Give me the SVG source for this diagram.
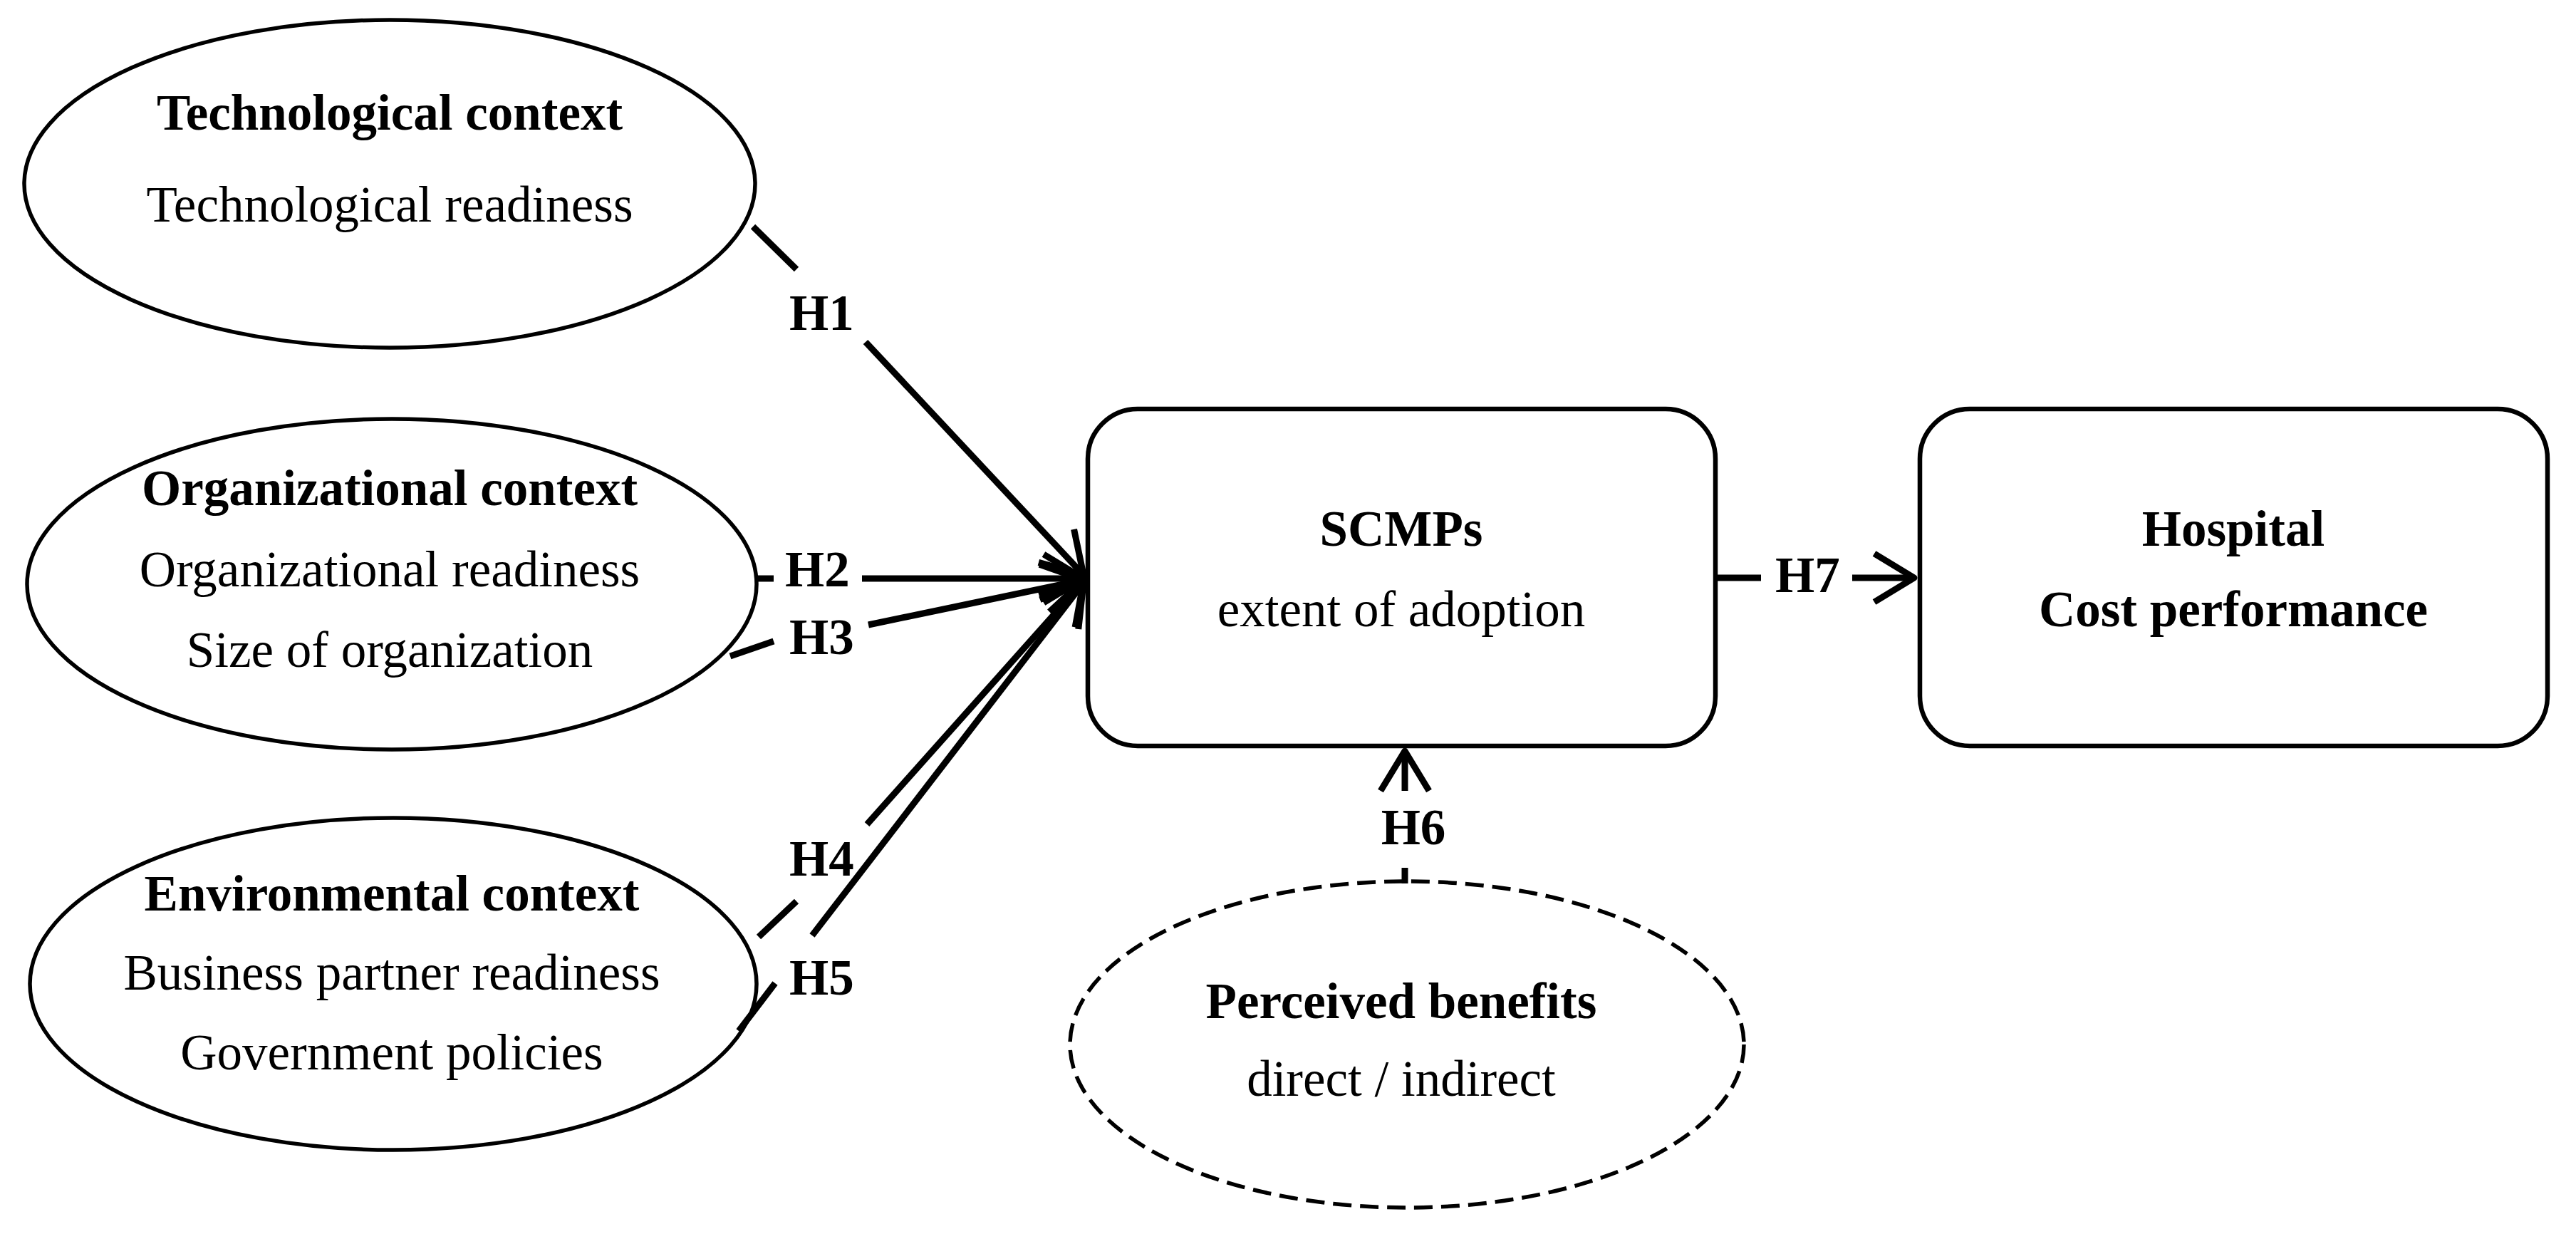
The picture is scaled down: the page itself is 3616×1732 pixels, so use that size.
<svg xmlns="http://www.w3.org/2000/svg" width="3616" height="1732" viewBox="0 0 3616 1732">
<style>
text{font-family:"Liberation Serif","Times New Roman",serif;font-size:71px;fill:#000;text-anchor:middle}
.b{font-weight:bold}
.node{fill:#fff;stroke:#000;stroke-width:5.5}
.box{fill:#fff;stroke:#000;stroke-width:6.5}
.dash{fill:#fff;stroke:#000;stroke-width:5.5;stroke-dasharray:26 12}
.c{stroke:#000;stroke-width:9;fill:none;stroke-linecap:butt}
.lbl{text-anchor:start;font-weight:bold}
</style>
<defs>
<marker id="arr" markerUnits="userSpaceOnUse" orient="auto" overflow="visible" markerWidth="10" markerHeight="10" refX="0" refY="0">
<path d="M -56,-34 L 0,0 L -56,34" fill="none" stroke="#000" stroke-width="9" stroke-linejoin="round" stroke-linecap="butt"/>
</marker>
</defs>
<rect width="3616" height="1732" fill="#fff"/>
<g id="tech">
<ellipse class="node" cx="547" cy="258" rx="513" ry="230"/>
<text class="b" x="547" y="182">Technological context</text>
<text x="547" y="311">Technological readiness</text>
</g>
<g id="org">
<ellipse class="node" cx="550" cy="820" rx="512" ry="232"/>
<text class="b" x="547" y="709">Organizational context</text>
<text x="547" y="823">Organizational readiness</text>
<text x="547" y="936">Size of organization</text>
</g>
<g id="env">
<ellipse class="node" cx="552" cy="1381" rx="510" ry="233"/>
<text class="b" x="550" y="1278">Environmental context</text>
<text x="550" y="1389">Business partner readiness</text>
<text x="550" y="1501">Government policies</text>
</g>
<g id="scmps">
<rect class="box" x="1527" y="574" width="881" height="473" rx="70" ry="70"/>
<text class="b" x="1967" y="766">SCMPs</text>
<text x="1967" y="879">extent of adoption</text>
</g>
<g id="hospital">
<rect class="box" x="2695" y="574" width="881" height="473" rx="70" ry="70"/>
<text class="b" x="3135" y="766">Hospital</text>
<text class="b" x="3135" y="879">Cost performance</text>
</g>
<g id="benefits">
<ellipse class="dash" cx="1975" cy="1466" rx="473" ry="229"/>
<text class="b" x="1967" y="1429">Perceived benefits</text>
<text x="1967" y="1538">direct / indirect</text>
</g>
<g id="connectors">
<line class="c" x1="1057" y1="318" x2="1118" y2="378"/>
<line class="c" x1="1215" y1="480" x2="1521" y2="807" marker-end="url(#arr)"/>
<line class="c" x1="1060" y1="812" x2="1086" y2="812"/>
<line class="c" x1="1210" y1="812" x2="1521" y2="812" marker-end="url(#arr)"/>
<line class="c" x1="1025" y1="921" x2="1086" y2="900"/>
<line class="c" x1="1219" y1="877" x2="1521" y2="814" marker-end="url(#arr)"/>
<line class="c" x1="1065" y1="1315" x2="1118" y2="1265"/>
<line class="c" x1="1217" y1="1157" x2="1521" y2="816" marker-end="url(#arr)"/>
<line class="c" x1="1037" y1="1447" x2="1088" y2="1380"/>
<line class="c" x1="1140" y1="1313" x2="1521" y2="818" marker-end="url(#arr)"/>
<line class="c" x1="1972" y1="1240" x2="1972" y2="1218"/>
<line class="c" x1="1972" y1="1110" x2="1972" y2="1054" marker-end="url(#arr)"/>
<line class="c" x1="2409" y1="811" x2="2472" y2="811"/>
<line class="c" x1="2600" y1="811" x2="2687" y2="811" marker-end="url(#arr)"/>
<text class="lbl" x="1108" y="463">H1</text>
<text class="lbl" x="1102" y="823">H2</text>
<text class="lbl" x="1108" y="918">H3</text>
<text class="lbl" x="1108" y="1229">H4</text>
<text class="lbl" x="1108" y="1396">H5</text>
<text class="b" x="1984" y="1185">H6</text>
<text class="lbl" x="2492" y="831">H7</text>
</g>
</svg>
